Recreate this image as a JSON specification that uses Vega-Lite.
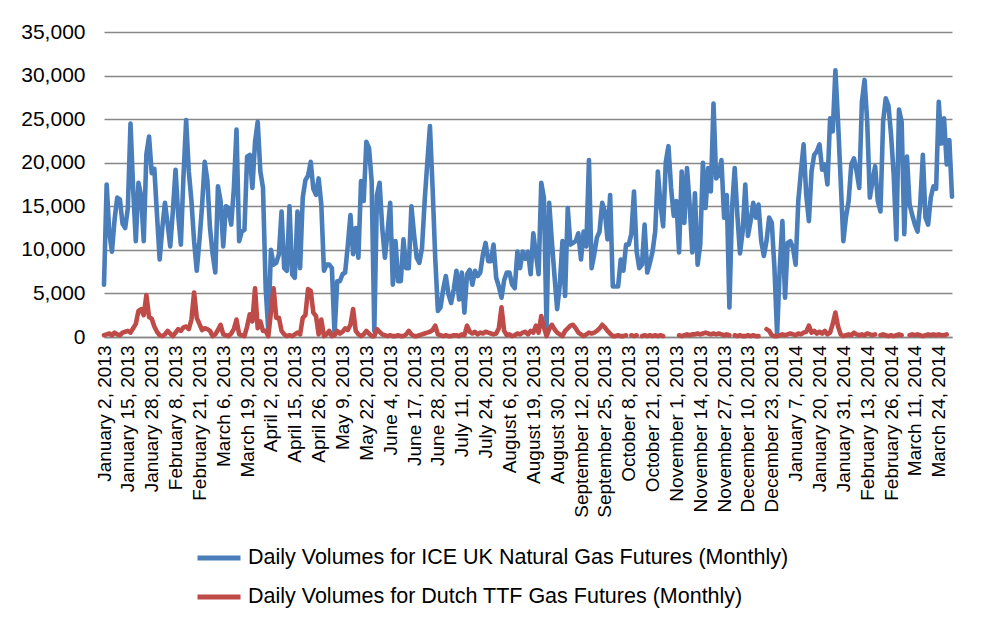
{
"$schema":"https://vega.github.io/schema/vega-lite/v6.json",
"width":848,"height":305,
"autosize":{"type":"none"},
"padding":{"left":104,"top":32,"right":29,"bottom":289},
"background":"white",
"config":{"view":{"stroke":null},"font":"Liberation Sans"},
"data":{"values":[
{"d":"January 2, 2013","a":6000,"b":200},
{"d":"January 3, 2013","a":17500,"b":300},
{"d":"January 4, 2013","a":12000,"b":400},
{"d":"January 7, 2013","a":9800,"b":200},
{"d":"January 8, 2013","a":13500,"b":500},
{"d":"January 9, 2013","a":16000,"b":300},
{"d":"January 10, 2013","a":15800,"b":200},
{"d":"January 11, 2013","a":13000,"b":500},
{"d":"January 14, 2013","a":12500,"b":600},
{"d":"January 15, 2013","a":14800,"b":700},
{"d":"January 16, 2013","a":24500,"b":500},
{"d":"January 17, 2013","a":17000,"b":1000},
{"d":"January 18, 2013","a":11000,"b":1500},
{"d":"January 21, 2013","a":17700,"b":3000},
{"d":"January 22, 2013","a":16200,"b":3200},
{"d":"January 23, 2013","a":11000,"b":2500},
{"d":"January 24, 2013","a":21000,"b":4800},
{"d":"January 25, 2013","a":23000,"b":2300},
{"d":"January 28, 2013","a":18800,"b":2100},
{"d":"January 29, 2013","a":19300,"b":1200},
{"d":"January 30, 2013","a":14000,"b":600},
{"d":"January 31, 2013","a":8900,"b":200},
{"d":"February 1, 2013","a":12500,"b":100},
{"d":"February 4, 2013","a":15400,"b":300},
{"d":"February 5, 2013","a":13000,"b":700},
{"d":"February 6, 2013","a":10400,"b":400},
{"d":"February 7, 2013","a":14500,"b":100},
{"d":"February 8, 2013","a":19200,"b":500},
{"d":"February 11, 2013","a":14000,"b":900},
{"d":"February 12, 2013","a":10600,"b":700},
{"d":"February 13, 2013","a":18500,"b":1100},
{"d":"February 14, 2013","a":24900,"b":1200},
{"d":"February 15, 2013","a":19000,"b":900},
{"d":"February 18, 2013","a":15600,"b":2000},
{"d":"February 19, 2013","a":11000,"b":5100},
{"d":"February 20, 2013","a":7600,"b":2200},
{"d":"February 21, 2013","a":11000,"b":1500},
{"d":"February 22, 2013","a":15000,"b":800},
{"d":"February 25, 2013","a":20100,"b":1000},
{"d":"February 26, 2013","a":18000,"b":900},
{"d":"February 27, 2013","a":12500,"b":700},
{"d":"February 28, 2013","a":9500,"b":100},
{"d":"March 1, 2013","a":7400,"b":300},
{"d":"March 4, 2013","a":17300,"b":800},
{"d":"March 5, 2013","a":15600,"b":1400},
{"d":"March 6, 2013","a":10400,"b":300},
{"d":"March 7, 2013","a":15000,"b":200},
{"d":"March 8, 2013","a":14800,"b":100},
{"d":"March 11, 2013","a":12900,"b":400},
{"d":"March 12, 2013","a":17000,"b":900},
{"d":"March 13, 2013","a":23800,"b":2000},
{"d":"March 14, 2013","a":11000,"b":300},
{"d":"March 15, 2013","a":12100,"b":200},
{"d":"March 18, 2013","a":12300,"b":100},
{"d":"March 19, 2013","a":20700,"b":1200},
{"d":"March 20, 2013","a":20900,"b":2600},
{"d":"March 21, 2013","a":17100,"b":1800},
{"d":"March 22, 2013","a":22400,"b":5600},
{"d":"March 25, 2013","a":24700,"b":1000},
{"d":"March 26, 2013","a":19000,"b":1800},
{"d":"March 27, 2013","a":17100,"b":700},
{"d":"March 28, 2013","a":5600,"b":700},
{"d":"April 1, 2013","a":700,"b":100},
{"d":"April 2, 2013","a":10000,"b":2800},
{"d":"April 3, 2013","a":8300,"b":5600},
{"d":"April 4, 2013","a":8500,"b":2200},
{"d":"April 5, 2013","a":9500,"b":2200},
{"d":"April 8, 2013","a":14400,"b":700},
{"d":"April 9, 2013","a":7900,"b":300},
{"d":"April 10, 2013","a":7600,"b":100},
{"d":"April 11, 2013","a":15000,"b":200},
{"d":"April 12, 2013","a":7200,"b":100},
{"d":"April 15, 2013","a":6800,"b":300},
{"d":"April 16, 2013","a":14400,"b":500},
{"d":"April 17, 2013","a":7900,"b":300},
{"d":"April 18, 2013","a":16000,"b":2200},
{"d":"April 19, 2013","a":18000,"b":2500},
{"d":"April 22, 2013","a":18500,"b":5500},
{"d":"April 23, 2013","a":20100,"b":5300},
{"d":"April 24, 2013","a":17000,"b":2800},
{"d":"April 25, 2013","a":16300,"b":2400},
{"d":"April 26, 2013","a":18200,"b":300},
{"d":"April 29, 2013","a":15200,"b":2000},
{"d":"April 30, 2013","a":7600,"b":100},
{"d":"May 1, 2013","a":8300,"b":300},
{"d":"May 2, 2013","a":8300,"b":700},
{"d":"May 3, 2013","a":7900,"b":100},
{"d":"May 6, 2013","a":300,"b":200},
{"d":"May 7, 2013","a":6400,"b":700},
{"d":"May 8, 2013","a":6400,"b":400},
{"d":"May 9, 2013","a":7200,"b":600},
{"d":"May 10, 2013","a":7400,"b":1000},
{"d":"May 13, 2013","a":10500,"b":800},
{"d":"May 14, 2013","a":14000,"b":1400},
{"d":"May 15, 2013","a":9500,"b":3200},
{"d":"May 16, 2013","a":12500,"b":700},
{"d":"May 17, 2013","a":9100,"b":300},
{"d":"May 20, 2013","a":17900,"b":100},
{"d":"May 21, 2013","a":15600,"b":300},
{"d":"May 22, 2013","a":22400,"b":700},
{"d":"May 23, 2013","a":21700,"b":400},
{"d":"May 24, 2013","a":17900,"b":100},
{"d":"May 27, 2013","a":700,"b":100},
{"d":"May 28, 2013","a":16300,"b":900},
{"d":"May 29, 2013","a":17700,"b":600},
{"d":"May 30, 2013","a":12500,"b":300},
{"d":"May 31, 2013","a":9100,"b":200},
{"d":"June 3, 2013","a":12000,"b":100},
{"d":"June 4, 2013","a":15400,"b":200},
{"d":"June 5, 2013","a":6000,"b":100},
{"d":"June 6, 2013","a":11000,"b":100},
{"d":"June 7, 2013","a":6400,"b":200},
{"d":"June 10, 2013","a":6400,"b":100},
{"d":"June 11, 2013","a":11200,"b":100},
{"d":"June 12, 2013","a":7900,"b":300},
{"d":"June 13, 2013","a":7900,"b":700},
{"d":"June 14, 2013","a":15000,"b":300},
{"d":"June 17, 2013","a":11800,"b":100},
{"d":"June 18, 2013","a":9100,"b":100},
{"d":"June 19, 2013","a":8500,"b":200},
{"d":"June 20, 2013","a":10200,"b":300},
{"d":"June 21, 2013","a":15600,"b":400},
{"d":"June 24, 2013","a":20000,"b":500},
{"d":"June 25, 2013","a":24200,"b":600},
{"d":"June 26, 2013","a":17100,"b":800},
{"d":"June 27, 2013","a":9000,"b":1300},
{"d":"June 28, 2013","a":3000,"b":300},
{"d":"July 1, 2013","a":3400,"b":200},
{"d":"July 2, 2013","a":5500,"b":100},
{"d":"July 3, 2013","a":7000,"b":200},
{"d":"July 4, 2013","a":4900,"b":100},
{"d":"July 5, 2013","a":3900,"b":100},
{"d":"July 8, 2013","a":5500,"b":200},
{"d":"July 9, 2013","a":7600,"b":200},
{"d":"July 10, 2013","a":4300,"b":100},
{"d":"July 11, 2013","a":7400,"b":300},
{"d":"July 12, 2013","a":2800,"b":200},
{"d":"July 15, 2013","a":7200,"b":1300},
{"d":"July 16, 2013","a":7700,"b":600},
{"d":"July 17, 2013","a":6000,"b":400},
{"d":"July 18, 2013","a":7600,"b":600},
{"d":"July 19, 2013","a":7000,"b":300},
{"d":"July 22, 2013","a":7400,"b":500},
{"d":"July 23, 2013","a":9500,"b":400},
{"d":"July 24, 2013","a":10800,"b":600},
{"d":"July 25, 2013","a":8700,"b":500},
{"d":"July 26, 2013","a":8700,"b":400},
{"d":"July 29, 2013","a":10600,"b":300},
{"d":"July 30, 2013","a":6800,"b":400},
{"d":"July 31, 2013","a":5800,"b":1000},
{"d":"August 1, 2013","a":4500,"b":3400},
{"d":"August 2, 2013","a":6500,"b":700},
{"d":"August 5, 2013","a":7400,"b":200},
{"d":"August 6, 2013","a":7400,"b":300},
{"d":"August 7, 2013","a":6000,"b":100},
{"d":"August 8, 2013","a":5600,"b":200},
{"d":"August 9, 2013","a":9800,"b":400},
{"d":"August 12, 2013","a":7900,"b":300},
{"d":"August 13, 2013","a":9800,"b":500},
{"d":"August 14, 2013","a":9000,"b":600},
{"d":"August 15, 2013","a":9800,"b":300},
{"d":"August 16, 2013","a":7200,"b":700},
{"d":"August 19, 2013","a":11900,"b":500},
{"d":"August 20, 2013","a":9500,"b":1300},
{"d":"August 21, 2013","a":7200,"b":500},
{"d":"August 22, 2013","a":17700,"b":2400},
{"d":"August 23, 2013","a":16000,"b":1100},
{"d":"August 26, 2013","a":1100,"b":100},
{"d":"August 27, 2013","a":15400,"b":900},
{"d":"August 28, 2013","a":11000,"b":1400},
{"d":"August 29, 2013","a":7000,"b":900},
{"d":"August 30, 2013","a":3200,"b":500},
{"d":"September 2, 2013","a":6000,"b":300},
{"d":"September 3, 2013","a":11000,"b":100},
{"d":"September 4, 2013","a":4700,"b":700},
{"d":"September 5, 2013","a":14800,"b":1000},
{"d":"September 6, 2013","a":10600,"b":1300},
{"d":"September 9, 2013","a":10800,"b":1400},
{"d":"September 10, 2013","a":11000,"b":1000},
{"d":"September 11, 2013","a":11900,"b":500},
{"d":"September 12, 2013","a":8900,"b":300},
{"d":"September 13, 2013","a":12100,"b":100},
{"d":"September 16, 2013","a":10400,"b":300},
{"d":"September 17, 2013","a":20300,"b":500},
{"d":"September 18, 2013","a":7900,"b":400},
{"d":"September 19, 2013","a":9500,"b":500},
{"d":"September 20, 2013","a":11400,"b":700},
{"d":"September 23, 2013","a":12100,"b":1000},
{"d":"September 24, 2013","a":15400,"b":1400},
{"d":"September 25, 2013","a":14400,"b":1100},
{"d":"September 26, 2013","a":11200,"b":700},
{"d":"September 27, 2013","a":16300,"b":400},
{"d":"September 30, 2013","a":5800,"b":100},
{"d":"October 1, 2013","a":5800,"b":100},
{"d":"October 2, 2013","a":5800,"b":200},
{"d":"October 3, 2013","a":8900,"b":100},
{"d":"October 4, 2013","a":7600,"b":100},
{"d":"October 7, 2013","a":10600,"b":200},
{"d":"October 8, 2013","a":10600,"b":null},
{"d":"October 9, 2013","a":11800,"b":200},
{"d":"October 10, 2013","a":16700,"b":100},
{"d":"October 11, 2013","a":9800,"b":200},
{"d":"October 14, 2013","a":7900,"b":null},
{"d":"October 15, 2013","a":8300,"b":100},
{"d":"October 16, 2013","a":12900,"b":200},
{"d":"October 17, 2013","a":7400,"b":100},
{"d":"October 18, 2013","a":8500,"b":200},
{"d":"October 21, 2013","a":9800,"b":100},
{"d":"October 22, 2013","a":12100,"b":200},
{"d":"October 23, 2013","a":19000,"b":100},
{"d":"October 24, 2013","a":15200,"b":200},
{"d":"October 25, 2013","a":12700,"b":100},
{"d":"October 28, 2013","a":20100,"b":null},
{"d":"October 29, 2013","a":21900,"b":null},
{"d":"October 30, 2013","a":17100,"b":null},
{"d":"October 31, 2013","a":13900,"b":null},
{"d":"November 1, 2013","a":15600,"b":null},
{"d":"November 4, 2013","a":9700,"b":200},
{"d":"November 5, 2013","a":19000,"b":100},
{"d":"November 6, 2013","a":13100,"b":200},
{"d":"November 7, 2013","a":19400,"b":300},
{"d":"November 8, 2013","a":15200,"b":200},
{"d":"November 11, 2013","a":9700,"b":300},
{"d":"November 12, 2013","a":16500,"b":300},
{"d":"November 13, 2013","a":8300,"b":400},
{"d":"November 14, 2013","a":10600,"b":300},
{"d":"November 15, 2013","a":20000,"b":400},
{"d":"November 18, 2013","a":14800,"b":500},
{"d":"November 19, 2013","a":19400,"b":400},
{"d":"November 20, 2013","a":16700,"b":300},
{"d":"November 21, 2013","a":26800,"b":400},
{"d":"November 22, 2013","a":18200,"b":300},
{"d":"November 25, 2013","a":18600,"b":400},
{"d":"November 26, 2013","a":20300,"b":300},
{"d":"November 27, 2013","a":13700,"b":200},
{"d":"November 28, 2013","a":16300,"b":300},
{"d":"November 29, 2013","a":3400,"b":200},
{"d":"December 2, 2013","a":14800,"b":null},
{"d":"December 3, 2013","a":19400,"b":200},
{"d":"December 4, 2013","a":14000,"b":100},
{"d":"December 5, 2013","a":9600,"b":200},
{"d":"December 6, 2013","a":12100,"b":100},
{"d":"December 9, 2013","a":17500,"b":100},
{"d":"December 10, 2013","a":11600,"b":200},
{"d":"December 11, 2013","a":13300,"b":100},
{"d":"December 12, 2013","a":15400,"b":200},
{"d":"December 13, 2013","a":13700,"b":100},
{"d":"December 16, 2013","a":15200,"b":100},
{"d":"December 17, 2013","a":11000,"b":null},
{"d":"December 18, 2013","a":9300,"b":null},
{"d":"December 19, 2013","a":11000,"b":900},
{"d":"December 20, 2013","a":13700,"b":700},
{"d":"December 23, 2013","a":13100,"b":200},
{"d":"December 24, 2013","a":7900,"b":100},
{"d":"December 26, 2013","a":300,"b":100},
{"d":"December 27, 2013","a":7900,"b":200},
{"d":"December 30, 2013","a":13300,"b":300},
{"d":"December 31, 2013","a":4500,"b":200},
{"d":"January 2, 2014","a":10800,"b":300},
{"d":"January 3, 2014","a":11000,"b":400},
{"d":"January 6, 2014","a":10200,"b":300},
{"d":"January 7, 2014","a":8300,"b":200},
{"d":"January 8, 2014","a":15600,"b":400},
{"d":"January 9, 2014","a":19000,"b":300},
{"d":"January 10, 2014","a":22100,"b":500},
{"d":"January 13, 2014","a":16300,"b":600},
{"d":"January 14, 2014","a":13300,"b":1300},
{"d":"January 15, 2014","a":19000,"b":500},
{"d":"January 16, 2014","a":20900,"b":700},
{"d":"January 17, 2014","a":21300,"b":400},
{"d":"January 20, 2014","a":22100,"b":600},
{"d":"January 21, 2014","a":19200,"b":400},
{"d":"January 22, 2014","a":19800,"b":700},
{"d":"January 23, 2014","a":17500,"b":300},
{"d":"January 24, 2014","a":25100,"b":500},
{"d":"January 27, 2014","a":23600,"b":1500},
{"d":"January 28, 2014","a":30600,"b":2800},
{"d":"January 29, 2014","a":24700,"b":1200},
{"d":"January 30, 2014","a":17900,"b":300},
{"d":"January 31, 2014","a":11000,"b":100},
{"d":"February 3, 2014","a":13800,"b":200},
{"d":"February 4, 2014","a":15600,"b":300},
{"d":"February 5, 2014","a":19800,"b":200},
{"d":"February 6, 2014","a":20500,"b":500},
{"d":"February 7, 2014","a":19000,"b":300},
{"d":"February 10, 2014","a":17100,"b":200},
{"d":"February 11, 2014","a":27000,"b":300},
{"d":"February 12, 2014","a":29500,"b":200},
{"d":"February 13, 2014","a":24700,"b":400},
{"d":"February 14, 2014","a":16000,"b":300},
{"d":"February 17, 2014","a":17900,"b":200},
{"d":"February 18, 2014","a":19600,"b":300},
{"d":"February 19, 2014","a":15600,"b":null},
{"d":"February 20, 2014","a":14400,"b":200},
{"d":"February 21, 2014","a":24700,"b":300},
{"d":"February 24, 2014","a":27400,"b":200},
{"d":"February 25, 2014","a":26600,"b":100},
{"d":"February 26, 2014","a":23200,"b":200},
{"d":"February 27, 2014","a":18600,"b":100},
{"d":"February 28, 2014","a":11200,"b":200},
{"d":"March 3, 2014","a":26100,"b":300},
{"d":"March 4, 2014","a":24700,"b":200},
{"d":"March 5, 2014","a":11800,"b":null},
{"d":"March 6, 2014","a":20700,"b":null},
{"d":"March 7, 2014","a":15200,"b":200},
{"d":"March 10, 2014","a":14000,"b":300},
{"d":"March 11, 2014","a":12900,"b":200},
{"d":"March 12, 2014","a":12100,"b":300},
{"d":"March 13, 2014","a":15200,"b":200},
{"d":"March 14, 2014","a":20900,"b":100},
{"d":"March 17, 2014","a":13700,"b":200},
{"d":"March 18, 2014","a":12900,"b":300},
{"d":"March 19, 2014","a":16000,"b":200},
{"d":"March 20, 2014","a":17300,"b":300},
{"d":"March 21, 2014","a":17000,"b":200},
{"d":"March 24, 2014","a":27000,"b":300},
{"d":"March 25, 2014","a":22200,"b":200},
{"d":"March 26, 2014","a":25100,"b":200},
{"d":"March 27, 2014","a":19800,"b":300},
{"d":"March 28, 2014","a":22600,"b":null},
{"d":"March 31, 2014","a":16100,"b":null}
]},
"transform":[{"fold":["a","b"],"as":["s","v"]}],
"mark":{"type":"line","strokeWidth":4.6,"strokeJoin":"round","strokeCap":"round","invalid":"break-paths-filter-domains"},
"encoding":{
"x":{"field":"d","type":"ordinal","sort":null,"scale":{"type":"point","padding":0},
"axis":{"title":null,"values":["January 2, 2013","January 15, 2013","January 28, 2013","February 8, 2013","February 21, 2013","March 6, 2013","March 19, 2013","April 2, 2013","April 15, 2013","April 26, 2013","May 9, 2013","May 22, 2013","June 4, 2013","June 17, 2013","June 28, 2013","July 11, 2013","July 24, 2013","August 6, 2013","August 19, 2013","August 30, 2013","September 12, 2013","September 25, 2013","October 8, 2013","October 21, 2013","November 1, 2013","November 14, 2013","November 27, 2013","December 10, 2013","December 23, 2013","January 7, 2014","January 20, 2014","January 31, 2014","February 13, 2014","February 26, 2014","March 11, 2014","March 24, 2014"],
"labelAngle":-90,"labelAlign":"right","labelBaseline":"middle","labelFont":"Liberation Sans","labelFontSize":19,"labelColor":"#000000","labelPadding":8,"labelOverlap":false,"labelLimit":0,"ticks":false,"grid":false,"domainColor":"#878787","domainWidth":1.5}},
"y":{"field":"v","type":"quantitative","scale":{"domain":[0,35000],"nice":false},
"axis":{"title":null,"values":[0,5000,10000,15000,20000,25000,30000,35000],"format":",.0f","labelFont":"Liberation Sans","labelFontSize":21,"labelColor":"#000000","labelPadding":19,"ticks":false,"domain":false,"grid":true,"gridColor":"#878787","gridWidth":1.5}},
"color":{"field":"s","type":"nominal","scale":{"domain":["a","b"],"range":["#4A7EBB","#BE4B48"]},
"legend":{"orient":"none","legendX":91,"legendY":502,"direction":"vertical","title":null,"symbolType":"stroke","symbolSize":1849,"symbolStrokeWidth":5,"labelFont":"Liberation Sans","labelFontSize":21.5,"labelColor":"#000000","labelOffset":5,"labelLimit":0,"rowPadding":4,"labelExpr":"datum.value == 'a' ? 'Daily Volumes for ICE UK Natural Gas Futures (Monthly)' : 'Daily Volumes for Dutch TTF Gas Futures (Monthly)'"}}
}
}
